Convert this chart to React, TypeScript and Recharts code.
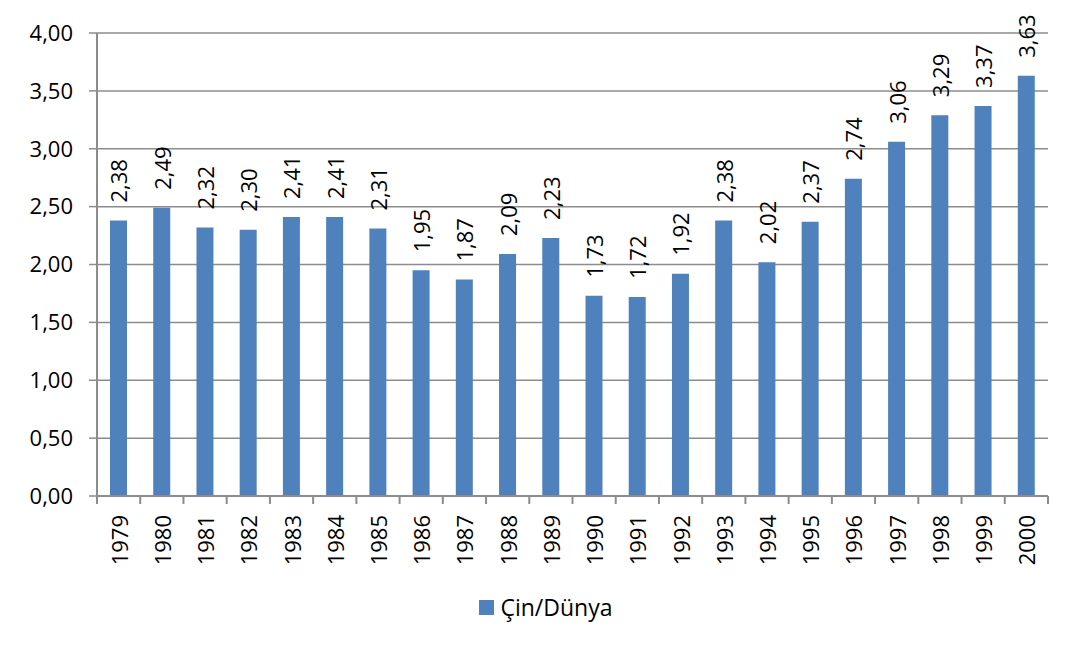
import React from 'react';
import { BarChart, Bar, XAxis, YAxis, CartesianGrid, Legend, LabelList, Customized } from 'recharts';

const years = ['1979','1980','1981','1982','1983','1984','1985','1986','1987','1988','1989','1990','1991','1992','1993','1994','1995','1996','1997','1998','1999','2000'];
const ratio = [2.38,2.49,2.32,2.30,2.41,2.41,2.31,1.95,1.87,2.09,2.23,1.73,1.72,1.92,2.38,2.02,2.37,2.74,3.06,3.29,3.37,3.63];
const yTicks = [0,0.5,1,1.5,2,2.5,3,3.5,4];
const seriesName = 'Çin/Dünya';

const data = years.map((y, i) => ({ year: y, value: ratio[i] }));

const FONT = '"Open Sans", sans-serif';
const FS = 22;
const BLUE = '#4F81BD';
const GRID = '#8c8c8c';

const fmt = (v: number) => v.toFixed(2).replace('.', ',');

const XTick = (props: any) => {
  const { x, y, payload, index } = props;
  const half = payload && payload.offset ? payload.offset : 21.6;
  return (
    <g>
      <line x1={x - half} y1={y - 8} x2={x - half} y2={y} stroke={GRID} strokeWidth={2} />
      {index === years.length - 1 && (
        <line x1={x + half} y1={y - 8} x2={x + half} y2={y} stroke={GRID} strokeWidth={2} />
      )}
      <text
        x={x}
        y={y + 11}
        transform={`rotate(-90, ${x}, ${y + 11})`}
        textAnchor="end"
        dominantBaseline="central"
        fontFamily={FONT}
        fontSize={FS}
        fill="#000"
      >
        {payload.value}
      </text>
    </g>
  );
};

const BarLabel = (props: any) => {
  const { x, y, width, value } = props;
  const cx = x + width / 2;
  const ty = y - 18;
  return (
    <text
      x={cx}
      y={ty}
      transform={`rotate(-90, ${cx}, ${ty})`}
      textAnchor="start"
      dominantBaseline="central"
      fontFamily={FONT}
      fontSize={FS}
      fill="#000"
    >
      {fmt(value)}
    </text>
  );
};

const Frame = () => (
  <g>
    <line x1={7} y1={3} x2={7} y2={647} stroke="#9a9a9a" strokeWidth={2} />
    <line x1={7} y1={3.5} x2={1073} y2={3.5} stroke="#b5b5b5" strokeWidth={1} />
  </g>
);

const LegendContent = () => (
  <div style={{ display: 'flex', justifyContent: 'center', alignItems: 'center', height: 40, paddingLeft: 44, fontFamily: FONT, fontSize: 23, color: '#000' }}>
    <span style={{ display: 'inline-block', width: 15, height: 15, background: BLUE, marginRight: 6 }} />
    <span>{seriesName}</span>
  </div>
);

export default function App() {
  return (
    <div style={{ position: 'relative', marginLeft: -8, marginTop: -8, width: 1073, height: 647, background: '#fff', borderLeft: '2px solid #9a9a9a', borderTop: '1px solid #b5b5b5', boxSizing: 'border-box', paddingTop: 0 }}>
      <div style={{ position: 'absolute', left: -2, top: -1 }}>
        <BarChart
          width={1073}
          height={647}
          data={data}
          margin={{ top: 33, right: 25, left: 0, bottom: 20 }}
          barSize={17}
        >
          <Customized component={<Frame />} />
          <CartesianGrid vertical={false} stroke={GRID} strokeWidth={1.5} />
          <XAxis
            dataKey="year"
            height={91}
            tickLine={false}
            axisLine={{ stroke: GRID, strokeWidth: 2 }}
            tick={<XTick />}
            interval={0}
          />
          <YAxis
            width={97}
            domain={[0, 4]}
            ticks={yTicks}
            tickFormatter={fmt}
            tickSize={8}
            tickMargin={16}
            tickLine={{ stroke: GRID, strokeWidth: 1.5 }}
            axisLine={{ stroke: GRID, strokeWidth: 2 }}
            tick={{ fontFamily: FONT, fontSize: FS, fill: '#000' }}
            interval={0}
          />
          <Legend verticalAlign="bottom" height={40} content={<LegendContent />} />
          <Bar dataKey="value" name={seriesName} fill={BLUE} isAnimationActive={false}>
            <LabelList dataKey="value" content={<BarLabel />} />
          </Bar>
        </BarChart>
      </div>
    </div>
  );
}
